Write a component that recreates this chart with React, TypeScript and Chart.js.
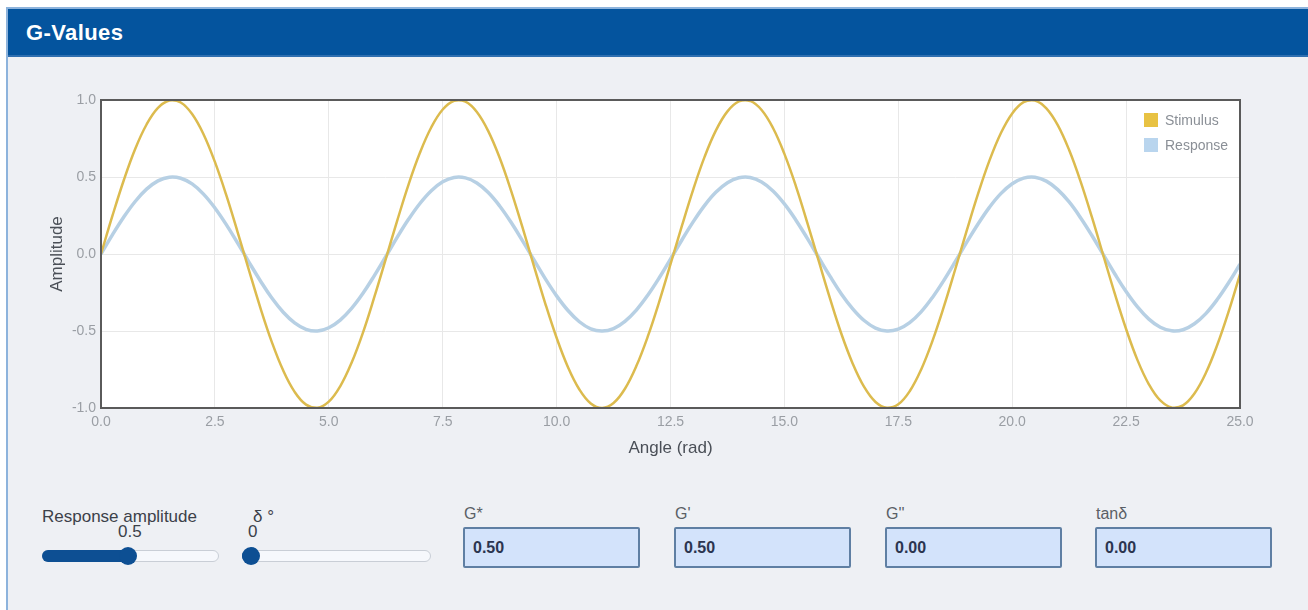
import React, { useEffect, useRef } from "react";
import { Chart, registerables } from "chart.js";

Chart.register(...registerables);

// Angle samples (rad)
const angles: number[] = [
  0, 0.25, 0.5, 0.75, 1, 1.25, 1.5, 1.75, 2, 2.25, 2.5, 2.75, 3, 3.25, 3.5, 3.75, 4, 4.25, 4.5, 4.75,
  5, 5.25, 5.5, 5.75, 6, 6.25, 6.5, 6.75, 7, 7.25, 7.5, 7.75, 8, 8.25, 8.5, 8.75, 9, 9.25, 9.5, 9.75,
  10, 10.25, 10.5, 10.75, 11, 11.25, 11.5, 11.75, 12, 12.25, 12.5, 12.75, 13, 13.25, 13.5, 13.75, 14, 14.25, 14.5, 14.75,
  15, 15.25, 15.5, 15.75, 16, 16.25, 16.5, 16.75, 17, 17.25, 17.5, 17.75, 18, 18.25, 18.5, 18.75, 19, 19.25, 19.5, 19.75,
  20, 20.25, 20.5, 20.75, 21, 21.25, 21.5, 21.75, 22, 22.25, 22.5, 22.75, 23, 23.25, 23.5, 23.75, 24, 24.25, 24.5, 24.75,
  25,
];

// Stimulus amplitude
const stimulus: number[] = [
  0, 0.247, 0.479, 0.682, 0.841, 0.949, 0.997, 0.984, 0.909, 0.778, 0.598, 0.382, 0.141, -0.108, -0.351, -0.572, -0.757, -0.895, -0.978, -0.999,
  -0.959, -0.859, -0.706, -0.51, -0.279, -0.033, 0.215, 0.451, 0.657, 0.823, 0.938, 0.995, 0.989, 0.922, 0.798, 0.625, 0.412, 0.174, -0.075, -0.32,
  -0.544, -0.735, -0.88, -0.971, -1.0, -0.968, -0.875, -0.728, -0.537, -0.312, -0.066, 0.182, 0.42, 0.632, 0.804, 0.926, 0.991, 0.994, 0.935, 0.818,
  0.65, 0.443, 0.206, -0.042, -0.288, -0.518, -0.712, -0.863, -0.961, -0.999, -0.976, -0.891, -0.751, -0.564, -0.342, -0.099, 0.15, 0.39, 0.606, 0.784,
  0.913, 0.986, 0.997, 0.946, 0.837, 0.675, 0.472, 0.239, -0.009, -0.256, -0.487, -0.689, -0.846, -0.951, -0.997, -0.983, -0.906, -0.773, -0.591, -0.374,
  -0.132,
];

// Response amplitude
const response: number[] = [
  0, 0.124, 0.24, 0.341, 0.421, 0.475, 0.499, 0.492, 0.455, 0.389, 0.299, 0.191, 0.071, -0.054, -0.175, -0.286, -0.378, -0.447, -0.489, -0.5,
  -0.479, -0.429, -0.353, -0.255, -0.14, -0.017, 0.108, 0.225, 0.328, 0.411, 0.469, 0.497, 0.494, 0.461, 0.399, 0.312, 0.206, 0.087, -0.037, -0.16,
  -0.272, -0.367, -0.44, -0.486, -0.5, -0.484, -0.437, -0.364, -0.268, -0.156, -0.033, 0.091, 0.21, 0.316, 0.402, 0.463, 0.495, 0.497, 0.467, 0.409,
  0.325, 0.221, 0.103, -0.021, -0.144, -0.259, -0.356, -0.432, -0.481, -0.5, -0.488, -0.446, -0.376, -0.282, -0.171, -0.05, 0.075, 0.195, 0.303, 0.392,
  0.456, 0.493, 0.499, 0.473, 0.418, 0.338, 0.236, 0.12, -0.004, -0.128, -0.244, -0.344, -0.423, -0.476, -0.499, -0.492, -0.453, -0.387, -0.296, -0.187,
  -0.066,
];

const seriesLabels = ["Stimulus", "Response"];
const yTicks: number[] = [-1.0, -0.5, 0.0, 0.5, 1.0];
const xTicks: number[] = [0, 2.5, 5, 7.5, 10, 12.5, 15, 17.5, 20, 22.5, 25];

const FONT = "'Liberation Sans', Arial, sans-serif";

const frameAndLegend = {
  id: "frameAndLegend",
  beforeDraw(chart: any) {
    const { ctx, chartArea: a } = chart;
    ctx.save();
    ctx.fillStyle = "#ffffff";
    ctx.fillRect(a.left, a.top, a.right - a.left, a.bottom - a.top);
    ctx.restore();
  },
  afterDraw(chart: any) {
    const { ctx, chartArea: a } = chart;
    ctx.save();
    ctx.strokeStyle = "#5a5a5a";
    ctx.lineWidth = 2;
    ctx.strokeRect(a.left, a.top, a.right - a.left, a.bottom - a.top);
    // legend inside plot, top right
    const x0 = a.right - 96;
    chart.data.datasets.forEach((ds: any, i: number) => {
      const y = a.top + 20 + i * 25;
      ctx.fillStyle = ds.legendColor;
      ctx.fillRect(x0, y - 7, 14, 14);
      ctx.fillStyle = "#8a8f96";
      ctx.font = `14px ${FONT}`;
      ctx.textBaseline = "middle";
      ctx.textAlign = "left";
      ctx.fillText(ds.label, x0 + 21, y + 1);
    });
    ctx.restore();
  },
};

function ChartView() {
  const ref = useRef<HTMLCanvasElement | null>(null);
  useEffect(() => {
    if (!ref.current) return;
    const chart = new Chart(ref.current, {
      type: "line",
      data: {
        datasets: [
          {
            label: seriesLabels[0],
            data: angles.map((x, i) => ({ x, y: stimulus[i] })),
            borderColor: "#dcbb4e",
            legendColor: "#e8c243",
            borderWidth: 2.5,
            pointRadius: 0,
            tension: 0.4,
            fill: false,
          } as any,
          {
            label: seriesLabels[1],
            data: angles.map((x, i) => ({ x, y: response[i] })),
            borderColor: "#b7d0e4",
            legendColor: "#b9d5ee",
            borderWidth: 3.5,
            pointRadius: 0,
            tension: 0.4,
            fill: false,
          } as any,
        ],
      },
      options: {
        animation: false,
        responsive: false,
        maintainAspectRatio: false,
        layout: { padding: { top: 40, right: 68, bottom: 0, left: 0 } },
        plugins: { legend: { display: false }, tooltip: { enabled: false } },
        scales: {
          x: {
            type: "linear",
            min: 0,
            max: 25,
            afterBuildTicks: (s: any) => {
              s.ticks = xTicks.map((v) => ({ value: v }));
            },
            afterFit: (s: any) => {
              s.height = 72;
            },
            ticks: {
              color: "#9a9ea4",
              font: { size: 14, family: FONT },
              padding: 6,
              maxRotation: 0,
              callback: (v: any) => Number(v).toFixed(1),
            },
            grid: { color: "#e8e8e8", drawTicks: false },
            border: { display: false },
            title: {
              display: true,
              text: "Angle (rad)",
              color: "#4a4f57",
              font: { size: 17, family: FONT },
              padding: { top: 0, bottom: 21 },
            },
          },
          y: {
            type: "linear",
            min: -1,
            max: 1,
            afterBuildTicks: (s: any) => {
              s.ticks = yTicks.map((v) => ({ value: v }));
            },
            afterFit: (s: any) => {
              s.width = 101;
            },
            ticks: {
              color: "#9a9ea4",
              font: { size: 14, family: FONT },
              padding: 5,
              callback: (v: any) => Number(v).toFixed(1),
            },
            grid: { color: "#e8e8e8", drawTicks: false },
            border: { display: false },
            title: {
              display: true,
              text: "Amplitude",
              color: "#4a4f57",
              font: { size: 17, family: FONT },
              padding: { top: 47, bottom: 0 },
            },
          },
        },
      },
      plugins: [frameAndLegend],
    } as any);
    return () => chart.destroy();
  }, []);
  return (
    <canvas
      ref={ref}
      width={1308}
      height={420}
      style={{ position: "absolute", left: 0, top: 60, width: 1308, height: 420 }}
    />
  );
}

function Slider(props: { left: number; width: number; thumb: number }) {
  const { left, width, thumb } = props;
  return (
    <>
      <div
        style={{
          position: "absolute",
          left,
          top: 550,
          width,
          height: 12,
          boxSizing: "border-box",
          background: "#f6f8fc",
          border: "1px solid #c9ced6",
          borderRadius: 6,
        }}
      />
      <div
        style={{
          position: "absolute",
          left,
          top: 550,
          width: thumb - left,
          height: 12,
          background: "#0d4f93",
          borderRadius: "6px 0 0 6px",
        }}
      />
      <div
        style={{
          position: "absolute",
          left: thumb - 9,
          top: 547,
          width: 18,
          height: 18,
          background: "#0d4f93",
          borderRadius: 9,
        }}
      />
    </>
  );
}

function ValueBox(props: { left: number; label: string; value: string }) {
  const { left, label, value } = props;
  return (
    <>
      <div
        style={{
          position: "absolute",
          left: left + 1,
          top: 505,
          fontSize: 16,
          color: "#5a5f66",
          fontFamily: FONT,
        }}
      >
        {label}
      </div>
      <div
        style={{
          position: "absolute",
          left,
          top: 527,
          width: 177,
          height: 41,
          boxSizing: "border-box",
          background: "#d3e3fb",
          border: "2px solid #5f7fa3",
          borderRadius: 2,
          fontFamily: FONT,
          fontWeight: "bold",
          fontSize: 16,
          color: "#2b3550",
          paddingLeft: 8,
          lineHeight: "37px",
        }}
      >
        {value}
      </div>
    </>
  );
}

const gStar = "0.50";
const gPrime = "0.50";
const gDouble = "0.00";
const tanDelta = "0.00";

const ctrlText = { position: "absolute" as const, fontSize: 16, color: "#3c4149", lineHeight: "20px" };

export default function App() {
  useEffect(() => {
    document.body.style.margin = "0";
  }, []);
  return (
    <div
      style={{
        position: "absolute",
        left: 0,
        top: 0,
        width: 1308,
        height: 610,
        background: "#ffffff",
        overflow: "hidden",
        fontFamily: FONT,
      }}
    >
      <div
        style={{
          position: "absolute",
          left: 6,
          top: 7,
          width: 1310,
          height: 610,
          background: "#eef0f4",
          borderLeft: "2px solid #8db3dc",
          borderTop: "2px solid #8db3dc",
        }}
      />
      <div
        style={{
          position: "absolute",
          left: 8,
          top: 9,
          width: 1300,
          height: 46,
          background: "#04549e",
          borderBottom: "2px solid #2f6fb0",
        }}
      />
      <div
        style={{
          position: "absolute",
          left: 26,
          top: 20,
          color: "#ffffff",
          fontWeight: "bold",
          fontSize: 22,
          letterSpacing: 0.4,
          fontFamily: FONT,
        }}
      >
        G-Values
      </div>
      <ChartView />
      <div style={{ ...ctrlText, left: 42, top: 507, fontSize: 17 }}>Response amplitude</div>
      <div style={{ ...ctrlText, left: 118, top: 522, fontSize: 17 }}>0.5</div>
      <div style={{ ...ctrlText, left: 253, top: 507, fontSize: 17 }}>δ °</div>
      <div style={{ ...ctrlText, left: 248, top: 522, fontSize: 17 }}>0</div>
      <Slider left={42} width={177} thumb={128} />
      <Slider left={242} width={189} thumb={251} />
      <ValueBox left={463} label="G*" value={gStar} />
      <ValueBox left={674} label="G'" value={gPrime} />
      <ValueBox left={885} label="G''" value={gDouble} />
      <ValueBox left={1095} label="tanδ" value={tanDelta} />
    </div>
  );
}
